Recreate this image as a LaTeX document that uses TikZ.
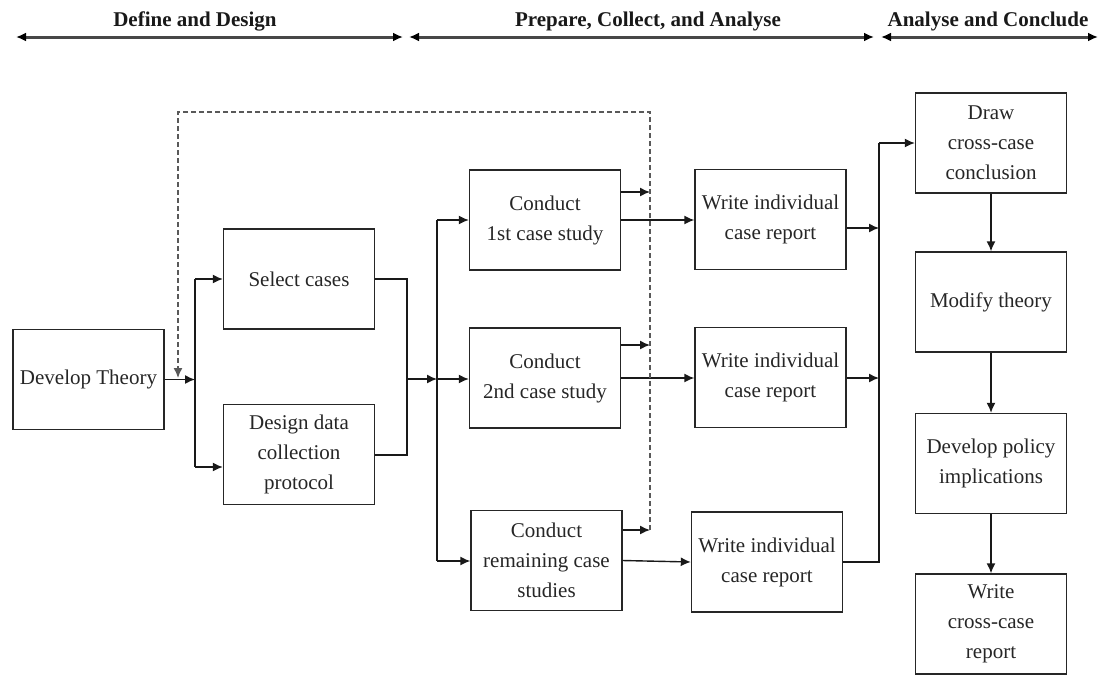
\documentclass[tikz,border=0pt]{standalone}
\usepackage{fontspec}
\setmainfont{Liberation Serif}
\usetikzlibrary{arrows.meta}
\begin{document}
\begin{tikzpicture}[x=1pt,y=-1pt,
 box/.style={draw=black!85,line width=1.4pt,minimum width=151pt,minimum height=100pt,inner sep=1pt,align=center,text=black!85,font=\fontsize{21}{30}\selectfont},
 tip/.style={-{Latex[length=10pt,width=9pt]}},
 conn/.style={line width=1.4pt,draw=black!90,tip},
 plain/.style={line width=1.4pt,draw=black!90},
 fb/.style={line width=1.5pt,draw=black!65,dash pattern=on 5pt off 3pt,tip},
 phase/.style={line width=3pt,draw=black!72,{Latex[length=10pt,width=9pt,black]}-{Latex[length=10pt,width=9pt,black]}},
 hdr/.style={font=\bfseries\fontsize{21}{25}\selectfont,text=black!90}]
\useasboundingbox (0,0) rectangle (1099,675);

% header
\coordinate (h1a) at (16,37);  \coordinate (h1b) at (403,37);
\coordinate (h2a) at (409,37); \coordinate (h2b) at (874,37);
\coordinate (h3a) at (881,37); \coordinate (h3b) at (1098,37);
\draw[phase] (h1a) -- (h1b);
\draw[phase] (h2a) -- (h2b);
\draw[phase] (h3a) -- (h3b);
\node[hdr] (t1) at (195,21) {Define and Design};
\node[hdr] (t2) at (648,21) {Prepare, Collect, and Analyse};
\node[hdr] (t3) at (988,21) {Analyse and Conclude};

% boxes
\node[box] (dev) at (88.5,379.5) {Develop Theory};
\node[box] (sel) at (299,279) {Select cases};
\node[box] (des) at (299,454.5) {Design data\\collection\\protocol};
\node[box] (c1) at (545,220) {Conduct\\1st case study};
\node[box] (c2) at (545,378) {Conduct\\2nd case study};
\node[box] (c3) at (546.5,560.5) {Conduct\\remaining case\\studies};
\node[box] (w1) at (770.5,219.5) {Write individual\\case report};
\node[box] (w2) at (770.5,377.5) {Write individual\\case report};
\node[box] (w3) at (767,562) {Write individual\\case report};
\node[box] (dr) at (991,143) {Draw\\cross-case\\conclusion};
\node[box] (mod) at (991,302) {Modify theory};
\node[box] (pol) at (991,463.5) {Develop policy\\implications};
\node[box] (wcr) at (991,624) {Write\\cross-case\\report};

% junctions
\coordinate (jA) at (195,379.5);
\coordinate (jSel) at (195,279);
\coordinate (jDes) at (195,467);
\coordinate (rS) at (407,279);
\coordinate (rD) at (407,455);
\coordinate (jB) at (407,379);
\coordinate (bus) at (437,379);
\coordinate (busT) at (437,220);
\coordinate (busB) at (437,561);
\coordinate (f1) at (650,192);
\coordinate (f2) at (650,345);
\coordinate (f3) at (650,530);
\coordinate (fTR) at (650,112);
\coordinate (fTL) at (178,112);
\coordinate (fEnd) at (178,378);
\coordinate (r1) at (879,228);
\coordinate (r2) at (879,378);
\coordinate (rB) at (879,562);
\coordinate (rT) at (879,143);

% define & design
\draw[conn] (dev.east) -- (jA);
\draw[plain] (jSel) -- (jDes);
\draw[conn] (jSel) -- (sel.west);
\draw[conn] (jDes) -- (des.west |- jDes);
\draw[plain] (sel.east) -- (rS) -- (rD) -- (des.east |- rD);
\draw[conn] (jB) -- (bus);

% conduct
\draw[plain] (busT) -- (busB);
\draw[conn] (busT) -- (c1.west);
\draw[conn] (bus) -- (c2.west |- bus);
\draw[conn] (busB) -- (c3.west |- busB);

\draw[conn] (c1.east) -- (w1.west |- c1.east);
\draw[conn] (c2.east) -- (w2.west |- c2.east);
\draw[conn] (c3.east) -- (w3.west);

\draw[conn] (c1.east |- f1) -- (f1);
\draw[conn] (c2.east |- f2) -- (f2);
\draw[conn] (c3.east |- f3) -- (f3);

% feedback dashed
\draw[fb] (f3) -- (fTR) -- (fTL) -- (fEnd);

% to cross-case
\draw[conn] (w1.east |- r1) -- (r1);
\draw[conn] (w2.east |- r2) -- (r2);
\draw[plain] (w3.east) -- (rB) -- (rT);
\draw[conn] (rT) -- (dr.west);

\draw[conn] (dr.south) -- (mod.north);
\draw[conn] (mod.south) -- (pol.north);
\draw[conn] (pol.south) -- (wcr.north);
\end{tikzpicture}
\end{document}
